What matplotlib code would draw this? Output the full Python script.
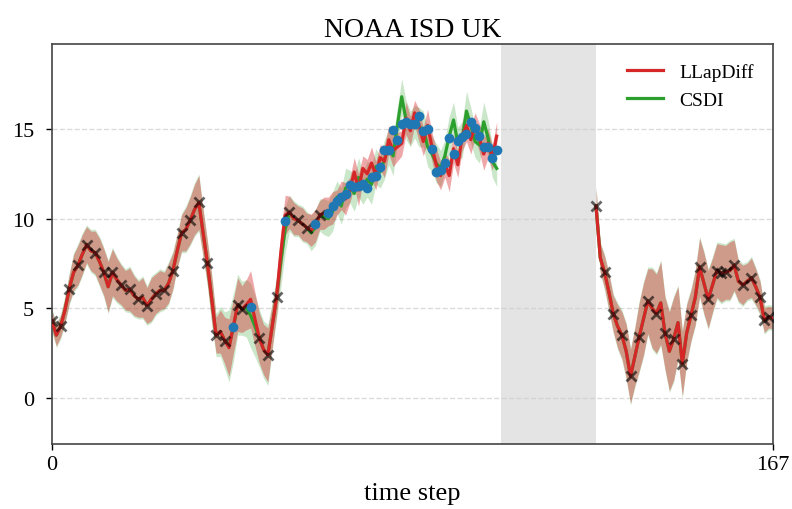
import matplotlib
matplotlib.use("Agg")
import matplotlib.pyplot as plt
import numpy as np

plt.rcParams['font.family'] = ['Liberation Serif', 'DejaVu Serif']

# time axis: observed block, gap, observed block
t_left = np.arange(0, 104)
t_right = np.arange(126, 168)
gap_start, gap_end = 104, 126
t_max = 167

# LLapDiff median
llap_left = [
    4.3, 3.5, 4.0, 4.9, 6.1, 7.0, 7.4, 8.0, 8.55, 8.2,
    8.1, 7.6, 7.0, 6.2, 7.0, 6.6, 6.3, 6.0, 6.05, 5.7,
    5.5, 5.6, 5.15, 5.5, 5.8, 6.0, 6.0, 6.4, 7.1, 8.2,
    9.2, 9.4, 9.9, 10.5, 10.9, 9.2, 7.5, 5.5, 3.5, 3.7,
    3.2, 2.8, 4.0, 5.2, 4.95, 5.2, 5.5, 4.4, 3.35, 2.7,
    2.4, 4.0, 5.6, 8.1, 10.2, 10.35, 10.0, 9.9, 9.7, 9.5,
    9.35, 9.6, 10.2, 10.3, 10.4, 10.6, 10.9, 11.3, 11.1, 11.6,
    12.6, 11.6, 12.8, 12.5, 13.1, 12.4, 13.4, 13.2, 14.4, 13.8,
    14.0, 14.2, 15.6, 14.9, 15.9, 15.2, 14.3, 15.2, 14.0, 13.0,
    12.4, 13.0, 12.4, 13.9, 13.0, 14.6, 15.2, 14.4, 15.2, 14.5,
    13.6, 14.2, 13.4, 14.6,
]
llap_right = [
    10.7, 7.8, 7.0, 5.9, 4.7, 4.0, 3.5, 2.6, 1.2, 2.3,
    3.4, 4.4, 5.4, 5.0, 4.7, 5.3, 3.6, 2.6, 3.3, 4.2,
    1.9, 3.6, 4.6, 5.6, 7.3, 6.4, 5.5, 6.3, 7.1, 6.95,
    7.0, 7.1, 7.4, 6.5, 6.3, 6.5, 6.7, 6.2, 5.6, 4.35,
    4.5, 4.45,
]

# CSDI median
csdi_left = [
    4.3, 3.5, 4.0, 4.9, 6.1, 7.0, 7.4, 8.0, 8.55, 8.2,
    8.1, 7.6, 7.0, 6.2, 7.0, 6.6, 6.3, 6.0, 6.05, 5.7,
    5.5, 5.6, 5.15, 5.5, 5.8, 6.0, 6.0, 6.4, 7.1, 8.2,
    9.2, 9.4, 9.9, 10.5, 10.9, 9.2, 7.5, 5.5, 3.5, 3.7,
    3.2, 2.9, 3.9, 5.2, 5.0, 5.0, 4.6, 4.0, 3.35, 2.7,
    2.4, 4.0, 5.6, 7.6, 9.4, 10.3, 10.0, 9.9, 9.7, 9.5,
    9.2, 9.5, 10.2, 10.1, 10.0, 10.4, 11.2, 10.7, 11.7, 11.8,
    11.4, 12.3, 11.7, 12.2, 11.9, 12.9, 12.6, 13.3, 14.0, 13.5,
    15.2, 16.8, 15.5, 15.0, 15.4, 15.1, 15.0, 14.0, 13.6, 13.1,
    12.8, 13.5, 14.6, 15.5, 14.2, 14.4, 16.0, 15.2, 14.3, 14.1,
    15.4, 14.5, 13.2, 12.8,
]
csdi_right = [
    10.7, 7.8, 7.0, 5.9, 4.7, 4.0, 3.5, 2.6, 1.2, 2.3,
    3.4, 4.4, 5.4, 5.0, 4.7, 5.3, 3.6, 2.6, 3.3, 4.2,
    1.9, 3.6, 4.6, 5.6, 7.3, 6.4, 5.5, 6.3, 7.1, 6.95,
    7.0, 7.1, 7.4, 6.5, 6.3, 6.5, 6.7, 6.2, 5.6, 4.35,
    4.5, 4.45,
]

# half-width of the 5-95% sample band
llap_spread_left = [
    0.55, 0.6, 0.6, 0.7, 0.8, 1.0, 1.1, 1.1, 1.0, 1.1,
    1.2, 1.3, 1.3, 1.4, 1.3, 1.2, 1.1, 1.1, 1.2, 1.1,
    1.0, 1.1, 1.0, 1.2, 1.1, 1.1, 1.0, 1.1, 1.0, 0.9,
    1.0, 1.2, 1.3, 1.4, 1.5, 1.3, 1.2, 1.3, 1.0, 1.2,
    1.3, 1.6, 1.5, 1.5, 1.3, 1.4, 1.6, 1.5, 1.4, 1.4,
    1.5, 1.2, 1.0, 1.2, 1.1, 0.9, 0.9, 0.8, 0.9, 0.8,
    0.9, 0.9, 0.8, 0.9, 0.8, 0.9, 0.7, 0.8, 0.9, 0.7,
    0.8, 0.9, 0.7, 0.8, 0.9, 0.8, 0.7, 0.9, 0.8, 0.9,
    0.8, 0.7, 0.9, 0.8, 0.7, 0.9, 0.8, 0.9, 0.8, 0.9,
    0.8, 0.7, 0.9, 0.8, 0.7, 0.8, 0.9, 0.8, 0.7, 0.8,
    0.9, 0.8, 0.7, 0.8,
]
llap_spread_right = [
    1.0, 0.8, 0.9, 1.0, 1.0, 1.2, 1.3, 1.5, 1.5, 1.6,
    1.9, 2.0, 1.8, 2.2, 2.2, 2.3, 2.0, 2.2, 2.3, 2.0,
    1.8, 1.6, 1.4, 1.5, 1.6, 1.7, 1.6, 1.5, 1.5, 1.6,
    1.5, 1.6, 1.4, 1.1, 1.1, 1.0, 1.1, 1.0, 0.9, 0.7,
    0.6, 0.6,
]
csdi_spread_left = [
    0.65, 0.7, 0.7, 0.8, 0.9, 1.1, 1.2, 1.2, 1.1, 1.2,
    1.3, 1.4, 1.4, 1.5, 1.4, 1.3, 1.2, 1.2, 1.3, 1.2,
    1.1, 1.2, 1.1, 1.3, 1.2, 1.2, 1.1, 1.2, 1.1, 1.0,
    1.1, 1.3, 1.4, 1.5, 1.6, 1.4, 1.3, 1.4, 1.2, 1.4,
    1.6, 2.0, 1.9, 1.7, 1.5, 1.6, 1.8, 1.7, 1.6, 1.6,
    1.7, 1.4, 1.2, 1.4, 1.3, 1.0, 1.0, 0.9, 1.0, 0.9,
    1.0, 1.0, 0.9, 1.0, 1.0, 1.1, 0.9, 1.0, 1.1, 0.9,
    1.0, 1.1, 0.9, 1.0, 1.1, 1.0, 0.9, 1.1, 1.0, 1.1,
    1.0, 1.0, 1.1, 1.0, 0.9, 1.1, 1.0, 1.1, 1.0, 1.1,
    1.0, 0.9, 1.1, 1.0, 0.9, 1.0, 1.1, 1.0, 0.9, 1.0,
    1.1, 1.0, 0.9, 1.0,
]
csdi_spread_right = [
    1.1, 0.9, 1.0, 1.1, 1.1, 1.3, 1.4, 1.6, 1.6, 1.7,
    2.0, 2.1, 1.9, 2.3, 2.3, 2.4, 2.1, 2.3, 2.4, 2.1,
    1.9, 1.7, 1.5, 1.6, 1.7, 1.8, 1.7, 1.6, 1.6, 1.7,
    1.6, 1.7, 1.5, 1.2, 1.2, 1.1, 1.2, 1.1, 1.0, 0.8,
    0.7, 0.7,
]

# observed (conditioning) steps
obs_steps = [0, 2, 4, 6, 8, 10, 12, 14, 16, 18, 20, 22, 24, 26, 28, 30,
             32, 34, 36, 38, 40, 43, 44, 48, 50, 52, 55, 57, 59, 62,
             126, 128, 130, 132, 134, 136, 138, 140, 142, 144, 146, 148,
             150, 152, 154, 155, 156, 158, 160, 162, 164, 165, 166]

# held-out ground truth
target_steps = [42, 46, 54, 61] + list(range(64, 104))
target_vals = [
    3.98, 5.09, 9.89, 9.7,
    10.3, 10.7, 11.0, 11.2, 11.4, 11.9, 11.75, 11.8, 11.95, 11.7,
    12.3, 12.4, 12.9, 13.8, 13.8, 14.95, 14.4, 15.3, 15.4, 15.3,
    15.25, 15.7, 14.9, 15.0, 13.9, 12.6, 12.7, 13.1, 14.5, 13.6,
    14.35, 14.55, 14.7, 15.4, 15.05, 14.6, 14.0, 14.0, 13.4, 13.85,
]

red = '#d62728'
green = '#2ca02c'

fig = plt.figure(figsize=(7.92, 5.10), dpi=100)
ax = fig.add_axes([0.0657, 0.1275, 0.9103, 0.7843])

ax.axvspan(gap_start, gap_end, color='#e4e4e4', lw=0, zorder=0)

for t, m, s in [(t_left, csdi_left, csdi_spread_left),
                (t_right, csdi_right, csdi_spread_right)]:
    m, s = np.array(m), np.array(s)
    ax.fill_between(t, m - s, m + s, color=green, alpha=0.25, lw=0, zorder=1)
for t, m, s in [(t_left, llap_left, llap_spread_left),
                (t_right, llap_right, llap_spread_right)]:
    m, s = np.array(m), np.array(s)
    ax.fill_between(t, m - s, m + s, color=red, alpha=0.4, lw=0, zorder=1)

ax.plot(t_left, csdi_left, color=green, lw=2.3, zorder=2, label='CSDI')
ax.plot(t_right, csdi_right, color=green, lw=2.3, zorder=2)
ax.plot(t_left, llap_left, color=red, lw=2.3, zorder=3, label='LLapDiff')
ax.plot(t_right, llap_right, color=red, lw=2.3, zorder=3)

full = dict(zip(np.concatenate([t_left, t_right]), llap_left + llap_right))
ax.plot(obs_steps, [full[s] for s in obs_steps], 'x', color='black',
        alpha=0.6, ms=7, mew=2, zorder=4)
ax.plot(target_steps, target_vals, 'o', color='#1f77b4', ms=7,
        mew=0, zorder=5)

ax.set_xlim(0, t_max)
ax.set_ylim(-2.57, 19.74)
ax.set_xticks([0, t_max])
ax.set_yticks([0, 5, 10, 15])
ax.tick_params(labelsize=16, length=4, width=1, pad=4)
ax.tick_params(axis='y', pad=9)
ax.yaxis.grid(True, linestyle='--', color='#cccccc', lw=1, alpha=0.7)
ax.set_axisbelow(True)
for sp in ax.spines.values():
    sp.set_color('#444444')
    sp.set_linewidth(1.2)

ax.set_title('NOAA ISD UK', fontsize=20, pad=6)
ax.set_xlabel('time step', fontsize=19, labelpad=6)

h, l = ax.get_legend_handles_labels()
ax.legend([h[1], h[0]], [l[1], l[0]], loc='upper right', frameon=False,
          fontsize=14, handlelength=1.9, borderaxespad=0.6)

fig.savefig('out.png', dpi=100)
